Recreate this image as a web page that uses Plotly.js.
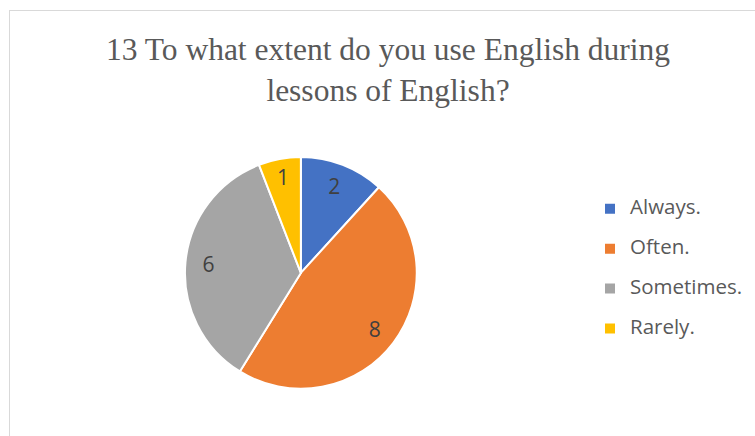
<!DOCTYPE html>
<html>
<head>
<meta charset="utf-8">
<script src="https://cdn.plot.ly/plotly-3.0.1.min.js"></script>
<style>
  html, body { margin: 0; padding: 0; background: #ffffff; overflow: hidden; }
  #frame { position: absolute; left: 9px; top: 10px; width: 800px; height: 500px; border: 1.5px solid #d9d9d9; }
  #chart { position: absolute; left: 0; top: 0; width: 755px; height: 436px; }
</style>
</head>
<body>
<div id="frame"></div>
<div id="chart"></div>
<script>
// answers to question 13
var answers = ['Always.', 'Often.', 'Sometimes.', 'Rarely.'];
var counts = [2, 8, 6, 1];
var sliceColors = ['#4472C4', '#ED7D31', '#A5A5A5', '#FFC000'];

// legend labels get a blank second line so entries sit further apart
var legendLabels = answers.map(function (a) {
    return '<span style="font-size:20.5px">' + a + '</span><br> ';
});

var pieDomain = { x: [0.245, 0.552], y: [0.108, 0.640] };

var data = [
    {
        type: 'pie',
        labels: legendLabels,
        values: counts,
        sort: false,
        direction: 'clockwise',
        rotation: 0,
        marker: { colors: sliceColors, line: { color: '#ffffff', width: 2 } },
        textinfo: 'none',
        hoverinfo: 'label+value',
        domain: pieDomain
    },
    {
        // transparent ring on top, only to push the value labels outwards
        type: 'pie',
        labels: legendLabels,
        values: counts,
        sort: false,
        direction: 'clockwise',
        rotation: 0,
        hole: 0.6,
        showlegend: false,
        marker: { colors: ['rgba(0,0,0,0)', 'rgba(0,0,0,0)', 'rgba(0,0,0,0)', 'rgba(0,0,0,0)'], line: { width: 0 } },
        textinfo: 'value',
        textposition: 'inside',
        insidetextorientation: 'horizontal',
        textfont: { family: 'Open Sans, sans-serif', size: 21, color: '#404040' },
        hoverinfo: 'skip',
        domain: pieDomain
    }
];

var layout = {
    width: 755,
    height: 436,
    margin: { l: 0, r: 0, t: 0, b: 0 },
    paper_bgcolor: 'rgba(0,0,0,0)',
    plot_bgcolor: 'rgba(0,0,0,0)',
    title: {
        text: '13 To what extent do you use English during<br>lessons of English?',
        font: { family: 'Liberation Serif, Times New Roman, serif', size: 31.5, color: '#595959' },
        x: 388 / 755,
        xanchor: 'center',
        y: 1 - 60 / 436,
        yanchor: 'top',
        yref: 'container'
    },
    showlegend: true,
    legend: {
        x: 590 / 755,
        xanchor: 'left',
        y: (436 - 193) / 436,
        yanchor: 'top',
        valign: 'top',
        font: { family: 'Open Sans, sans-serif', size: 14.2, color: '#595959' }
    }
};

Plotly.newPlot('chart', data, layout, { displayModeBar: false, staticPlot: true });
</script>
</body>
</html>
